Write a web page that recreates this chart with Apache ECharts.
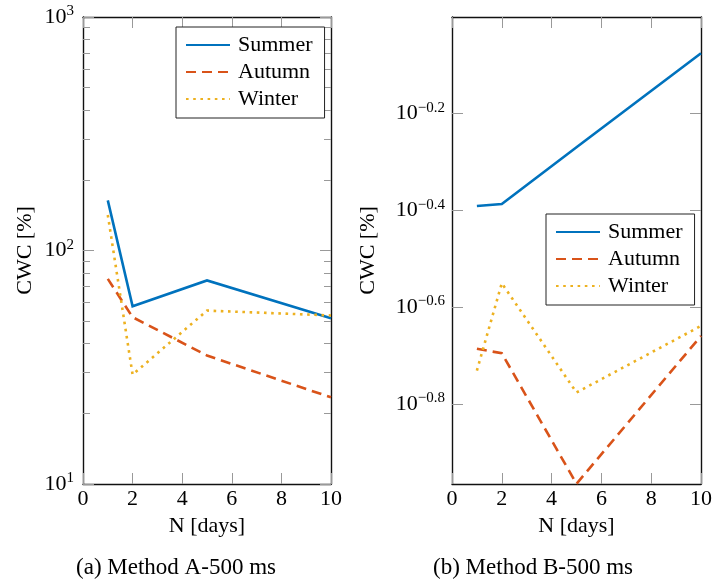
<!DOCTYPE html>
<html><head><meta charset="utf-8">
<script src="https://cdn.jsdelivr.net/npm/echarts@6/dist/echarts.min.js"></script>
<style>html,body{margin:0;padding:0;background:#fff}#c{width:714px;height:585px}</style>
</head><body><div id="c"></div>
<script>
// ---- data ----
const days = [1, 2, 5, 10];
const seasonNames = ['Summer', 'Autumn', 'Winter'];
const methodA_summer = [164, 57.7, 74.4, 51.3];
const methodA_autumn = [75.6, 51.8, 35.5, 23.5];
const methodA_winter = [142, 29.4, 55.3, 52.7];
const methodB_summer = [0.406, 0.410, 0.537, 0.839];
const methodB_autumn = [0.206, 0.2016, 0.1084, 0.2189];
const methodB_winter = [0.1857, 0.2812, 0.1673, 0.2296];
const xTicks = [0, 2, 4, 6, 8, 10];
const leftYMajor = [10, 100, 1000];
const leftYMinor = [20, 30, 40, 50, 60, 70, 80, 90, 200, 300, 400, 500, 600, 700, 800, 900];
const rightYExponents = [-0.8, -0.6, -0.4, -0.2];
const captions = ['(a) Method A-500 ms', '(b) Method B-500 ms'];
const xName = 'N [days]';
const yName = 'CWC [%]';

// ---- styling ----
const FONT = '"Liberation Serif", "DejaVu Serif", serif';
const colors = ['#0072BD', '#D95319', '#EDB120'];
const lineTypes = ['solid', [10, 6], [2.6, 4.6]];
const rightYMajor = rightYExponents.map(e => Math.pow(10, e));

const rich = {
  b: { fontSize: 22, fontFamily: FONT, color: '#000', lineHeight: 26 },
  s: { fontSize: 15, fontFamily: FONT, color: '#000', lineHeight: 12, verticalAlign: 'top' }
};
function expLabel(v) {
  let e = Math.round(Math.log10(v) * 10) / 10;
  let s = (e < 0 ? '\u2212' : '') + Math.abs(e).toString();
  return '{b|10}{s|' + s + '}';
}

const grids = [
  { left: 83, top: 17, width: 248, height: 467 },
  { left: 452, top: 17, width: 249, height: 467 }
];

function xAxes(gi) {
  const base = {
    gridIndex: gi, type: 'value', min: 0, max: 10, interval: 2,
    axisLine: { show: true, onZero: false, lineStyle: { color: '#111', width: 1.4 } },
    axisTick: { show: true, inside: true, length: 11, customValues: xTicks, lineStyle: { color: '#999', width: 1 } },
    splitLine: { show: false }
  };
  return [
    Object.assign({}, base, {
      position: 'bottom',
      axisLabel: { show: true, fontSize: 22, fontFamily: FONT, color: '#000', margin: 4, customValues: xTicks },
      name: xName, nameLocation: 'middle', nameGap: 31,
      nameTextStyle: { fontSize: 22, fontFamily: FONT, color: '#000' }
    }),
    Object.assign({}, base, { position: 'top', axisLabel: { show: false } })
  ];
}

function yAxis(gi, pos, min, max, major, opts) {
  const ax = {
    gridIndex: gi, type: 'log', logBase: 10, min: min, max: max, position: pos,
    axisLine: { show: opts.line, onZero: false, lineStyle: { color: '#111', width: 1.4 } },
    axisTick: { show: true, inside: true, length: opts.len, customValues: major, lineStyle: { color: '#999', width: 1 } },
    axisLabel: { show: !!opts.labels },
    splitLine: { show: false }, minorTick: { show: false }
  };
  if (opts.labels) {
    ax.axisLabel = { show: true, customValues: major, margin: opts.margin, formatter: expLabel, rich: rich };
    ax.name = yName; ax.nameLocation = 'middle'; ax.nameGap = opts.nameGap;
    ax.nameTextStyle = { fontSize: 22, fontFamily: FONT, color: '#000' };
  }
  return ax;
}

const xAxisList = [].concat(xAxes(0), xAxes(1));
const yAxisList = [
  yAxis(0, 'left', 10, 1000, leftYMajor, { line: true, len: 11, labels: true, margin: 9, nameGap: 47 }),
  yAxis(0, 'left', 10, 1000, leftYMinor, { line: false, len: 7 }),
  yAxis(0, 'right', 10, 1000, leftYMajor, { line: true, len: 11 }),
  yAxis(0, 'right', 10, 1000, leftYMinor, { line: false, len: 7 }),
  yAxis(1, 'left', 0.1083, 0.997, rightYMajor, { line: true, len: 11, labels: true, margin: 7, nameGap: 73 }),
  yAxis(1, 'right', 0.1083, 0.997, rightYMajor, { line: true, len: 11 })
];

function mkSeries(name, vals, idx, xi, yi) {
  return {
    name: name, type: 'line', xAxisIndex: xi, yAxisIndex: yi,
    data: days.map((d, i) => [d, vals[i]]),
    symbol: 'none', showSymbol: false, silent: true, animation: false,
    lineStyle: { color: colors[idx], width: 2.6, type: lineTypes[idx], cap: 'butt', join: 'miter' },
    itemStyle: { color: colors[idx] }, z: 3
  };
}
const series = [
  mkSeries(seasonNames[0], methodA_summer, 0, 0, 0),
  mkSeries(seasonNames[1], methodA_autumn, 1, 0, 0),
  mkSeries(seasonNames[2], methodA_winter, 2, 0, 0),
  mkSeries(seasonNames[0], methodB_summer, 0, 2, 4),
  mkSeries(seasonNames[1], methodB_autumn, 1, 2, 4),
  mkSeries(seasonNames[2], methodB_winter, 2, 2, 4)
];

function mkLegend(left, top) {
  return {
    orient: 'vertical', left: left, top: top, data: seasonNames,
    itemWidth: 44, itemHeight: 14, itemGap: 5, padding: [7, 12, 8, 9],
    borderColor: '#222', borderWidth: 1, backgroundColor: '#fff',
    itemStyle: { opacity: 0 },
    textStyle: { fontSize: 22, fontFamily: FONT, color: '#000', padding: [0, 0, 0, 3] },
    selectedMode: false, z: 10
  };
}

const chart = echarts.init(document.getElementById('c'), null, { renderer: 'canvas' });
chart.setOption({
  animation: false,
  backgroundColor: '#fff',
  grid: grids.map(g => Object.assign({ outerBoundsMode: 'none', containLabel: false }, g)),
  xAxis: xAxisList,
  yAxis: yAxisList,
  legend: [mkLegend(176, 27), mkLegend(546, 214)],
  series: series,
  graphic: [
    { type: 'text', x: 176, y: 568, style: { text: captions[0], fontSize: 23, fontFamily: FONT, fill: '#000', align: 'center', verticalAlign: 'middle' } },
    { type: 'text', x: 533, y: 568, style: { text: captions[1], fontSize: 23, fontFamily: FONT, fill: '#000', align: 'center', verticalAlign: 'middle' } }
  ]
});
</script></body></html>
